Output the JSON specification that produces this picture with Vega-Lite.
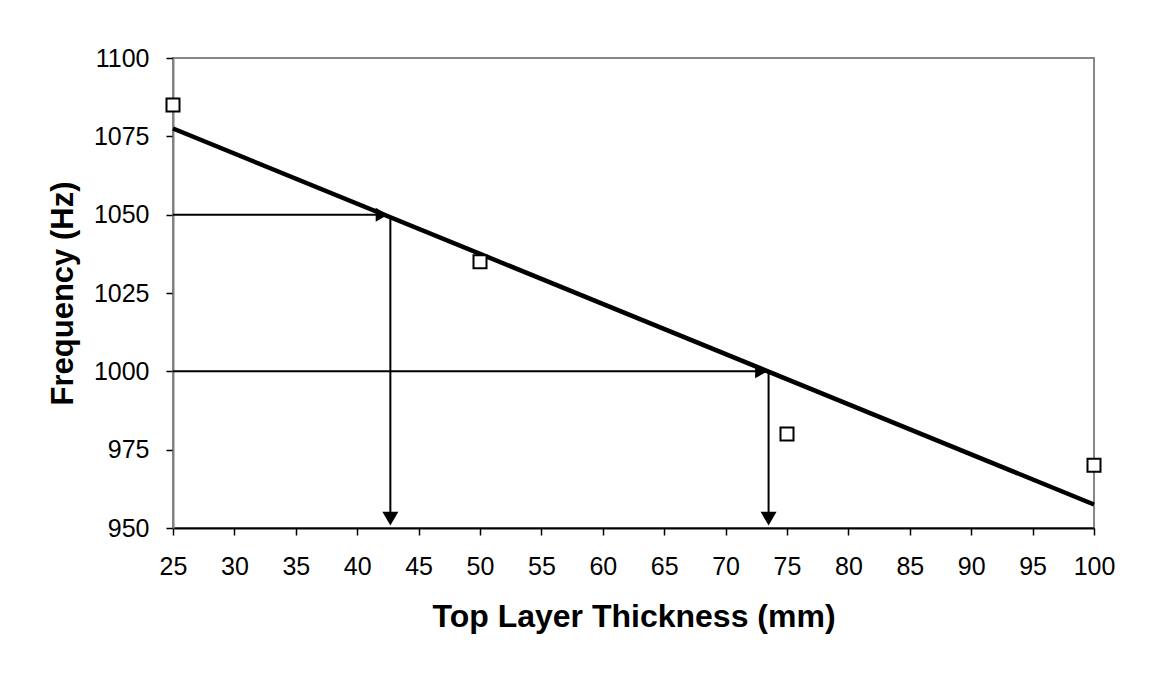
{
  "$schema": "https://vega.github.io/schema/vega-lite/v6.json",
  "width": 921,
  "height": 470,
  "autosize": "none",
  "padding": {"left": 173, "top": 58, "right": 56, "bottom": 147},
  "background": "white",
  "config": {
    "font": "Liberation Sans",
    "view": {"stroke": "#878787", "strokeWidth": 2},
    "axis": {
      "grid": false,
      "labelFont": "Liberation Sans",
      "labelFontSize": 25,
      "labelColor": "black",
      "labelFlush": false,
      "labelOverlap": false,
      "format": "d",
      "tickColor": "black",
      "tickSize": 7,
      "tickWidth": 1.5,
      "domainWidth": 2,
      "titleFont": "Liberation Sans",
      "titleFontSize": 31,
      "titleFontWeight": "bold",
      "titleColor": "black"
    }
  },
  "datasets": {
    "measured": [
      {"thickness": 25, "frequency": 1085},
      {"thickness": 50, "frequency": 1035},
      {"thickness": 75, "frequency": 980},
      {"thickness": 100, "frequency": 970}
    ],
    "trend": [
      {"thickness": 25, "frequency": 1077.5},
      {"thickness": 100, "frequency": 957.5}
    ],
    "guides": [
      {"thickness": 25, "thickness_end": 42.4, "frequency": 1050, "frequency_end": 1050},
      {"thickness": 42.7, "thickness_end": 42.7, "frequency": 1049.2, "frequency_end": 955},
      {"thickness": 25, "thickness_end": 73.3, "frequency": 1000, "frequency_end": 1000},
      {"thickness": 73.5, "thickness_end": 73.5, "frequency": 999.6, "frequency_end": 955}
    ],
    "heads_right": [
      {"thickness": 42.0, "frequency": 1050},
      {"thickness": 72.9, "frequency": 1000}
    ],
    "heads_down": [
      {"thickness": 42.7, "frequency": 953},
      {"thickness": 73.5, "frequency": 953}
    ]
  },
  "layer": [
    {
      "data": {"name": "guides"},
      "mark": {"type": "rule", "color": "black", "strokeWidth": 2},
      "encoding": {
        "x": {
          "field": "thickness", "type": "quantitative",
          "scale": {"domain": [25, 100], "nice": false, "zero": false},
          "axis": {
            "values": [25, 30, 35, 40, 45, 50, 55, 60, 65, 70, 75, 80, 85, 90, 95, 100],
            "title": "Top Layer Thickness (mm)",
            "titleFontSize": 32,
            "domainColor": "black",
            "labelPadding": 19,
            "titlePadding": 22
          }
        },
        "x2": {"field": "thickness_end"},
        "y": {
          "field": "frequency", "type": "quantitative",
          "scale": {"domain": [950, 1100], "nice": false, "zero": false},
          "axis": {
            "values": [950, 975, 1000, 1025, 1050, 1075, 1100],
            "title": "Frequency (Hz)",
            "domainColor": "#808080",
            "labelPadding": 17,
            "titlePadding": 14
          }
        },
        "y2": {"field": "frequency_end"}
      }
    },
    {
      "data": {"name": "heads_right"},
      "mark": {"type": "point", "shape": "triangle-right", "filled": true, "color": "black", "size": 196, "opacity": 1},
      "encoding": {
        "x": {"field": "thickness", "type": "quantitative"},
        "y": {"field": "frequency", "type": "quantitative"}
      }
    },
    {
      "data": {"name": "heads_down"},
      "mark": {"type": "point", "shape": "triangle-down", "filled": true, "color": "black", "size": 256, "opacity": 1},
      "encoding": {
        "x": {"field": "thickness", "type": "quantitative"},
        "y": {"field": "frequency", "type": "quantitative"}
      }
    },
    {
      "data": {"name": "trend"},
      "mark": {"type": "line", "color": "black", "strokeWidth": 4.5},
      "encoding": {
        "x": {"field": "thickness", "type": "quantitative"},
        "y": {"field": "frequency", "type": "quantitative"}
      }
    },
    {
      "data": {"name": "measured"},
      "mark": {"type": "point", "shape": "square", "filled": false, "fill": "white", "fillOpacity": 1, "stroke": "black", "strokeWidth": 2, "size": 169, "opacity": 1},
      "encoding": {
        "x": {"field": "thickness", "type": "quantitative"},
        "y": {"field": "frequency", "type": "quantitative"}
      }
    }
  ]
}
